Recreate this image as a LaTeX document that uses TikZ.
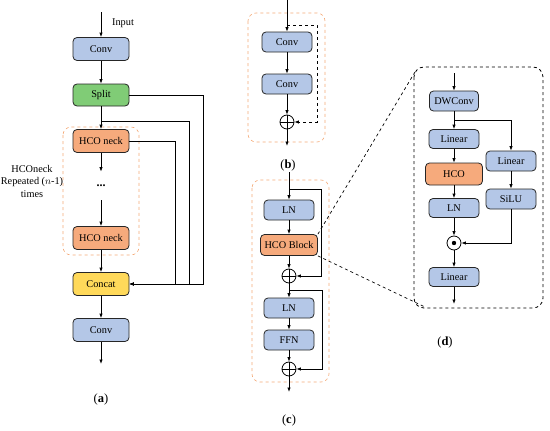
\documentclass[tikz,border=0pt]{standalone}
\usepackage{fontspec}
\setmainfont{Liberation Serif}
\usetikzlibrary{arrows.meta}
\definecolor{boxblue}{RGB}{180,199,231}
\definecolor{boxgreen}{RGB}{128,204,118}
\definecolor{boxorange}{RGB}{246,170,124}
\definecolor{boxyellow}{RGB}{255,217,90}
\definecolor{frameorange}{RGB}{244,170,120}

\begin{document}
\begin{tikzpicture}[x=1pt, y=-1pt, line width=0.8pt,
  arr/.style={-{Latex[length=4.5pt, width=3.5pt]}},
  blk/.style={draw=black!85, rounded corners=4pt, inner sep=0pt,
    minimum width=50pt, minimum height=20pt, font=\fontsize{10.3}{11}\selectfont},
  blue/.style={blk, fill=boxblue},
  sumnode/.style={circle, draw, minimum size=14pt, inner sep=0pt,
    path picture={\draw (path picture bounding box.north) -- (path picture bounding box.south)
      (path picture bounding box.west) -- (path picture bounding box.east);}},
  prodnode/.style={circle, draw, minimum size=14pt, inner sep=0pt,
    path picture={\fill (path picture bounding box.center) circle (2.2pt);}},
  frame/.style={draw=frameorange, dashed, line width=0.6pt, rounded corners=8pt},
  caption/.style={font=\fontsize{12.5}{14}\selectfont}]
  \useasboundingbox (0,0) rectangle (550,431);

  \coordinate (ain) at (101,12);
  \node[blue, minimum width=56pt, minimum height=23pt] (aconv1) at (101,49) {Conv};
  \node[blk, fill=boxgreen, minimum width=56pt, minimum height=22pt] (split) at (101,95) {Split};
  \node[blk, fill=boxorange, minimum width=56pt, minimum height=23pt] (neck1) at (101,141) {HCO neck};
  \node[minimum height=28pt, inner sep=0pt, font=\bfseries\large] (dots) at (101,186) {...};
  \node[blk, fill=boxorange, minimum width=56pt, minimum height=23pt] (neck2) at (101,238) {HCO neck};
  \node[blk, fill=boxyellow, minimum width=56pt, minimum height=23pt] (concat) at (101,284) {Concat};
  \node[blue, minimum width=56pt, minimum height=23pt] (aconv2) at (101,330) {Conv};
  \coordinate (aout) at (101,364);
  \coordinate (aj) at (101,121);
  \node[font=\fontsize{10.3}{11}\selectfont] (input) at (123,23) {Input};
  \node[align=center, font=\fontsize{10.3}{12.5}\selectfont] (rep) at (32,181)
    {HCOneck\\Repeated ($n$-1)\\times};
  \draw[frame] (63,127) rectangle (139,255);
  \draw[arr] (ain) -- (aconv1);
  \draw[arr] (aconv1) -- (split);
  \draw[arr] (split) -- (neck1);
  \draw[arr] (neck1) -- (dots);
  \draw[arr] (dots) -- (neck2);
  \draw[arr] (neck2) -- (concat);
  \draw[arr] (concat) -- (aconv2);
  \draw[arr] (aconv2) -- (aout);
  \draw[arr] (split.east) -- ++(74,0) |- (concat.east);
  \draw[arr] (aj) -- ++(88,0) |- (concat.east);
  \draw[arr] (neck1.east) -- ++(46,0) |- (concat.east);
  \node[caption] (capa) at (101,399) {(\textbf{a})};

  \coordinate (bin) at (287,0);
  \coordinate (bj) at (287,25);
  \node[blue] (bconv1) at (287,42) {Conv};
  \node[blue] (bconv2) at (287,84) {Conv};
  \node[sumnode] (bsum) at (287,122) {};
  \coordinate (bout) at (287,146);
  \draw[frame] (248,13) rectangle (325,142);
  \draw[arr] (bin) -- (bconv1);
  \draw[arr] (bconv1) -- (bconv2);
  \draw[arr] (bconv2) -- (bsum);
  \draw[arr] (bsum) -- (bout);
  \draw[arr, dashed] (bj) -- ++(30,0) |- (bsum.east);
  \node[caption] (capb) at (288,165) {(\textbf{b})};

  \coordinate (cin) at (289,172);
  \coordinate (cj1) at (289,189);
  \node[blue] (cln1) at (289,210) {LN};
  \node[blk, fill=boxorange, minimum width=57pt, minimum height=21pt] (hcob) at (289,245) {HCO Block};
  \node[sumnode] (csum1) at (289,276) {};
  \coordinate (cj2) at (289,290);
  \node[blue] (cln2) at (289,308) {LN};
  \node[blue] (ffn) at (289,340) {FFN};
  \node[sumnode] (csum2) at (289,369) {};
  \coordinate (cout) at (289,392);
  \draw[frame] (252,180) rectangle (329,382);
  \draw[arr] (cin) -- (cln1);
  \draw[arr] (cln1) -- (hcob);
  \draw[arr] (hcob) -- (csum1);
  \draw[arr] (csum1) -- (cln2);
  \draw[arr] (cln2) -- (ffn);
  \draw[arr] (ffn) -- (csum2);
  \draw[arr] (csum2) -- (cout);
  \draw[arr] (cj1) -- ++(32,0) |- (csum1.east);
  \draw[arr] (cj2) -- ++(33,0) |- (csum2.east);
  \node[caption] (capc) at (289,420) {(\textbf{c})};

  \coordinate (din) at (454,73);
  \node[blue, minimum width=49pt] (dw) at (454,101) {DWConv};
  \coordinate (dj) at (454,120);
  \node[blue, minimum height=19pt] (lin1) at (454,139) {Linear};
  \node[blk, fill=boxorange, minimum width=57pt, minimum height=22pt] (hco) at (454,174) {HCO};
  \node[blue, minimum height=19pt] (dln) at (454,208) {LN};
  \node[blue] (lin2) at (511,161) {Linear};
  \node[blue] (silu) at (511,199) {SiLU};
  \node[prodnode] (prod) at (454,243) {};
  \node[blue, minimum height=19pt] (lin3) at (454,277) {Linear};
  \coordinate (dout) at (454,304);
  \draw[dashed, line width=0.8pt, rounded corners=10pt] (414,67) rectangle (543,308);
  \draw[arr] (din) -- (dw);
  \draw[arr] (dw) -- (lin1);
  \draw[arr] (lin1) -- (hco);
  \draw[arr] (hco) -- (dln);
  \draw[arr] (dln) -- (prod);
  \draw[arr] (prod) -- (lin3);
  \draw[arr] (lin3) -- (dout);
  \draw[arr] (dj) -| (lin2.north);
  \draw[arr] (lin2) -- (silu);
  \draw[arr] (silu.south) |- (prod.east);
  \coordinate (dtl) at (415,72);
  \coordinate (dbl) at (425,307);
  \draw[dashed, line width=0.7pt] (hcob.north east) -- (dtl);
  \draw[dashed, line width=0.7pt] (hcob.south east) -- (dbl);
  \node[caption] (capd) at (445,342) {(\textbf{d})};
\end{tikzpicture}
\end{document}
